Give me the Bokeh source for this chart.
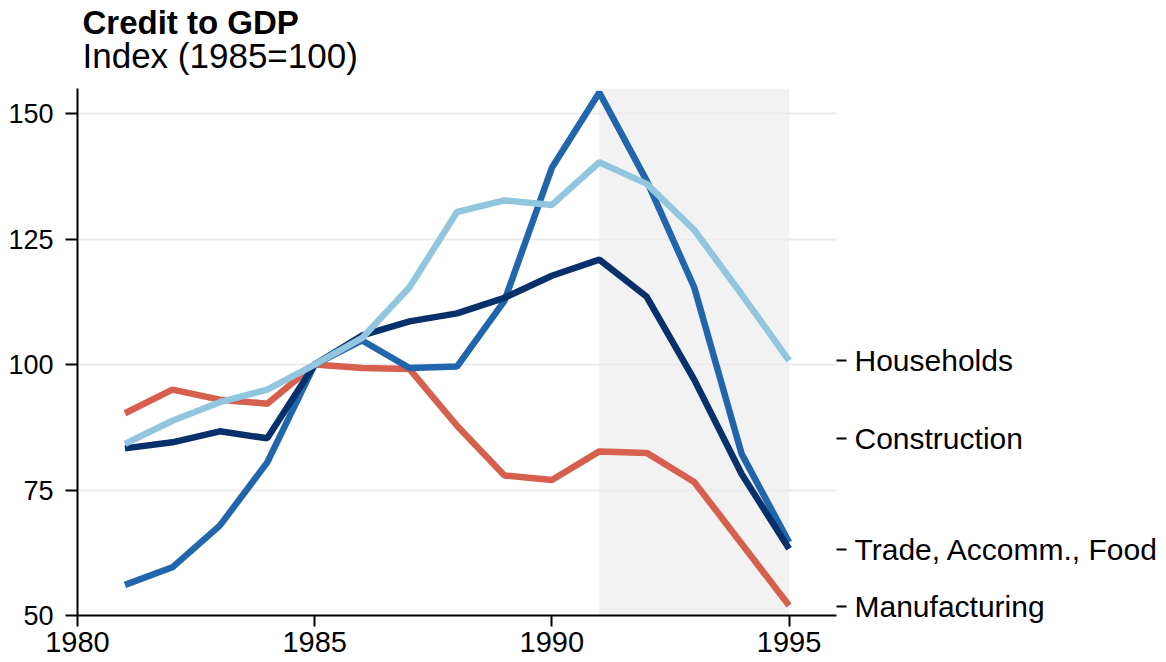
from bokeh.plotting import figure
from bokeh.models import (LinearAxis, FixedTicker, BoxAnnotation, Title, Range1d,
                          ColumnDataSource)
from bokeh.embed import file_html
from bokeh.resources import INLINE

years = [1981, 1982, 1983, 1984, 1985, 1986, 1987, 1988, 1989, 1990,
         1991, 1992, 1993, 1994, 1995]
households = [84.2, 88.8, 92.5, 95.0, 100, 105.3, 115.4, 130.4, 132.7, 131.8,
              140.3, 136.0, 126.8, 114.0, 100.8]
construction = [56.1, 59.6, 67.9, 80.5, 100, 104.8, 99.3, 99.6, 112.7, 139.2,
                154.2, 136.6, 115.4, 82.2, 64.6]
trade = [83.3, 84.5, 86.7, 85.3, 100, 105.8, 108.6, 110.2, 113.3, 117.7,
         120.9, 113.5, 97.0, 78.2, 63.3]
manufacturing = [90.3, 95.0, 93.0, 92.2, 100, 99.3, 99.1, 87.8, 77.9, 77.0,
                 82.7, 82.4, 76.6, 64.3, 52.0]

series_names = ["Manufacturing", "Construction", "Trade, Accomm., Food", "Households"]
series_colors = ["#d6604d", "#2166ac", "#08306b", "#92c5de"]
label_pos = [51.8, 85.3, 63.1, 100.8]

shade_period = [1991, 1995]
x_ticks = [1980, 1985, 1990, 1995]
y_ticks = [50, 75, 100, 125, 150]
x_min, x_max, y_min, y_max = 1980, 1996, 50, 155

title_text = "Credit to GDP"
subtitle_text = "Index (1985=100)"

FONT = "Liberation Sans"

p = figure(frame_width=759, frame_height=527, output_backend="svg",
           toolbar_location=None, x_range=Range1d(x_min, x_max),
           y_range=Range1d(y_min, y_max), min_border_left=77, min_border_right=0,
           min_border_top=88, min_border_bottom=50)
p.outline_line_color = None
p.background_fill_color = "white"

shade = BoxAnnotation(left=shade_period[0], right=shade_period[1],
                      fill_color="#f2f2f2", fill_alpha=1.0, line_color=None,
                      level="image")
p.add_layout(shade)

src = ColumnDataSource(dict(x=years, m=manufacturing, c=construction,
                            t=trade, h=households))
for key, col in zip(["m", "c", "t", "h"], series_colors):
    p.line("x", key, source=src, line_color=col, line_width=6.5)

p.xgrid.grid_line_color = None
p.ygrid.grid_line_color = "#ebebeb"
p.ygrid.grid_line_width = 2
p.ygrid.ticker = FixedTicker(ticks=y_ticks)

for ax in (p.xaxis[0], p.yaxis[0]):
    ax.axis_line_color = "black"
    ax.axis_line_width = 2
    ax.major_tick_line_color = "black"
    ax.major_tick_line_width = 2
    ax.major_tick_out = 11
    ax.major_tick_in = 0
    ax.minor_tick_line_color = None
    ax.major_label_text_font = FONT
    ax.major_label_text_color = "black"
p.xaxis[0].ticker = FixedTicker(ticks=x_ticks)
p.yaxis[0].ticker = FixedTicker(ticks=y_ticks)
p.xaxis[0].major_label_text_font_size = "29px"
p.yaxis[0].major_label_text_font_size = "27px"
p.xaxis[0].major_label_standoff = 5
p.yaxis[0].major_label_standoff = 12
p.yaxis[0].major_tick_out = 12

right = LinearAxis(ticker=FixedTicker(ticks=label_pos))
right.major_label_overrides = {v: n for v, n in zip(label_pos, series_names)}
right.axis_line_color = None
right.major_tick_line_color = "black"
right.major_tick_line_width = 2
right.major_tick_out = 10
right.major_tick_in = 0
right.minor_tick_line_color = None
right.major_label_text_font = FONT
right.major_label_text_font_size = "30px"
right.major_label_text_color = "black"
right.major_label_standoff = 8
p.add_layout(right, "right")

sub = Title(text=subtitle_text, text_font=FONT, text_font_size="35px",
            text_font_style="normal", text_color="black", offset=5,
            standoff=28)
p.add_layout(sub, "above")
ttl = Title(text=title_text, text_font=FONT, text_font_size="33px",
            text_font_style="bold", text_color="black", offset=5, standoff=-42)
p.add_layout(ttl, "above")

open("out.html", "w").write(file_html(p, INLINE))
